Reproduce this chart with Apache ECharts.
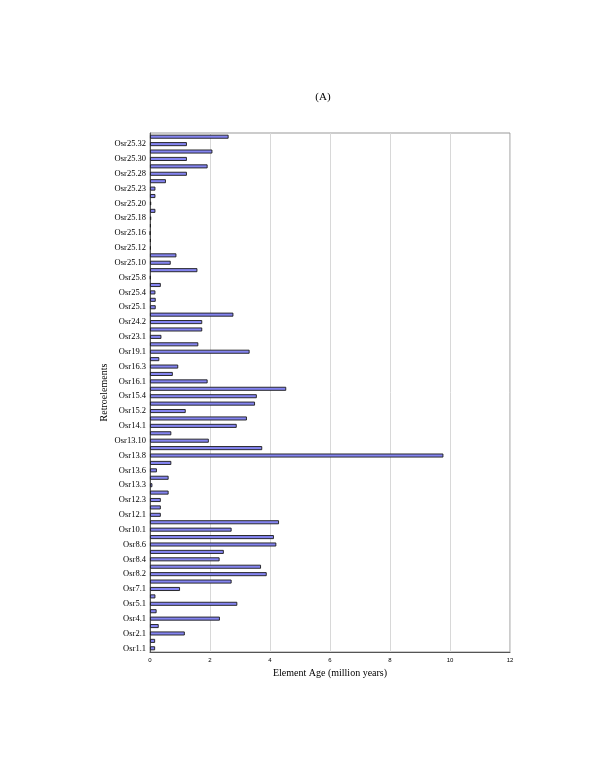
<!DOCTYPE html>
<html>
<head>
<meta charset="utf-8">
<script src="https://cdn.jsdelivr.net/npm/echarts@6/dist/echarts.min.js"></script>
<style>
html,body{margin:0;padding:0;background:#fff;}
#c{width:600px;height:776px;}
</style>
</head>
<body>
<div id="c"></div>
<script>
// categories listed top to bottom
const categories = [
  "Osr25.33","Osr25.32","Osr25.31","Osr25.30","Osr25.29","Osr25.28","Osr25.24","Osr25.23",
  "Osr25.21","Osr25.20","Osr25.19","Osr25.18","Osr25.17","Osr25.16","Osr25.13","Osr25.12",
  "Osr25.11","Osr25.10","Osr25.9","Osr25.8","Osr25.5","Osr25.4","Osr25.2","Osr25.1",
  "Osr24.3","Osr24.2","Osr24.1","Osr23.1","Osr20.1","Osr19.1","Osr16.4","Osr16.3",
  "Osr16.2","Osr16.1","Osr15.5","Osr15.4","Osr15.3","Osr15.2","Osr15.1","Osr14.1",
  "Osr13.11","Osr13.10","Osr13.9","Osr13.8","Osr13.7","Osr13.6","Osr13.4","Osr13.3",
  "Osr13.1","Osr12.3","Osr12.2","Osr12.1","Osr11.1","Osr10.1","Osr9.1","Osr8.6",
  "Osr8.5","Osr8.4","Osr8.3","Osr8.2","Osr8.1","Osr7.1","Osr6.1","Osr5.1",
  "Osr4.2","Osr4.1","Osr3.1","Osr2.1","Osr1.2","Osr1.1"
];
const ages = [
  2.62,1.23,2.08,1.23,1.92,1.23,0.53,0.18,
  0.18,0.04,0.18,0.04,0.03,0.01,0.03,0.03,
  0.88,0.69,1.58,0.02,0.36,0.18,0.19,0.19,
  2.78,1.74,1.74,0.38,1.61,3.32,0.31,0.94,
  0.76,1.92,4.54,3.56,3.50,1.19,3.23,2.89,
  0.71,1.96,3.74,9.78,0.71,0.23,0.62,0.08,
  0.62,0.36,0.36,0.36,4.30,2.72,4.13,4.21,
  2.46,2.32,3.70,3.89,2.72,1.00,0.18,2.91,
  0.22,2.33,0.29,1.16,0.17,0.17
];
const xTicks = {min:0, max:12, interval:2};

const chart = echarts.init(document.getElementById('c'), null, {renderer:'canvas'});
chart.setOption({
  animation:false,
  backgroundColor:'#ffffff',
  title:{
    text:'(A)', left:318, top:87, textAlign:'center',
    textStyle:{fontFamily:'Liberation Serif', fontSize:11, fontWeight:'normal', color:'#000'}
  },
  grid:{left:150, right:90, top:133, bottom:124, show:true, borderColor:'#999', borderWidth:1, backgroundColor:'transparent'},
  xAxis:{
    type:'value', min:xTicks.min, max:xTicks.max, interval:xTicks.interval,
    name:'Element Age (million years)', nameLocation:'middle', nameGap:16,
    nameTextStyle:{fontFamily:'Liberation Serif', fontSize:10, color:'#000'},
    axisLine:{show:true, lineStyle:{color:'#555', width:1}},
    axisTick:{show:false},
    axisLabel:{fontFamily:'Liberation Sans', fontSize:6, color:'#000', margin:5},
    splitLine:{show:true, lineStyle:{color:'#d8d8d8', width:1}}
  },
  yAxis:{
    type:'category', data:categories, inverse:true,
    name:'Retroelements', nameLocation:'middle', nameGap:41, nameRotate:90,
    nameMoveOverlap:false,
    nameTextStyle:{fontFamily:'Liberation Serif', fontSize:10, color:'#000'},
    axisLine:{show:true, lineStyle:{color:'#555', width:1}},
    axisTick:{show:false},
    axisLabel:{fontFamily:'Liberation Serif', fontSize:8.5, color:'#000', margin:4,
      interval:function(i){return i % 2 === 1;}},
    splitLine:{show:false}
  },
  series:[{
    type:'bar', data:ages, barWidth:4,
    itemStyle:{color:'#8484f0', borderColor:'#1a1a1a', borderWidth:0.9}
  }]
});
</script>
</body>
</html>
